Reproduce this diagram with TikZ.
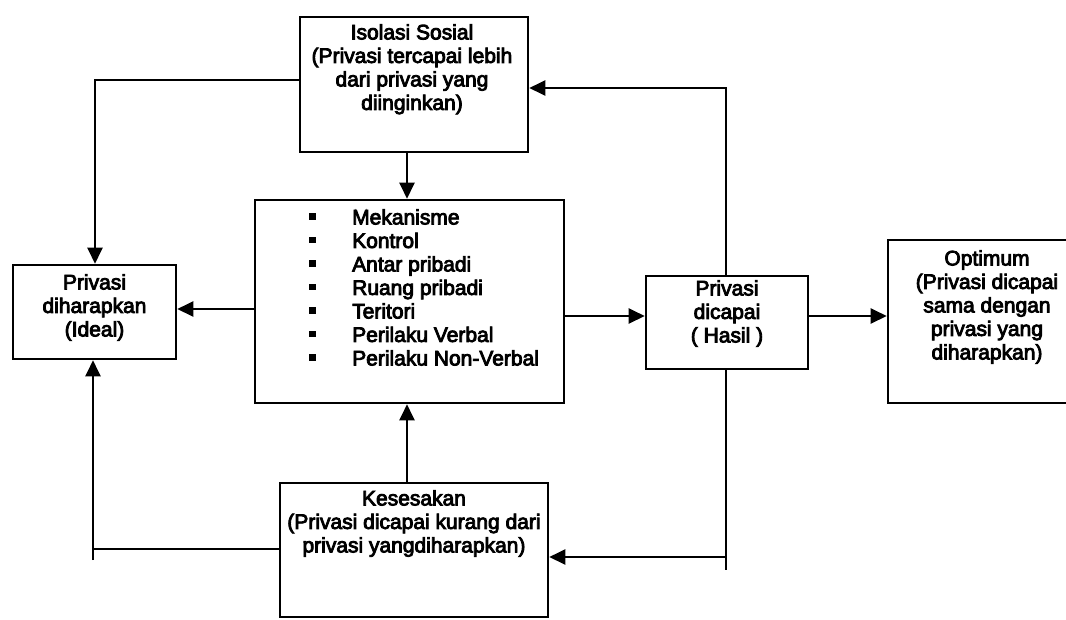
\documentclass[tikz,border=0pt]{standalone}
\usepackage{fontspec}
\newfontfamily\diafont{Liberation Sans}[FakeBold=4]
\usetikzlibrary{arrows.meta}
\newcommand{\mybul}{\makebox[43pt][l]{\rule[4.5pt]{6.5pt}{6.5pt}}}
\begin{document}
\begin{tikzpicture}[x=1pt,y=-1pt,
  box/.style={draw, line width=2.6pt, inner sep=0pt},
  txt/.style={font=\diafont\fontsize{21}{23.5}\selectfont, align=center, inner sep=0pt, anchor=north},
  ln/.style={line width=2.4pt},
  arr/.style={ln, -{Triangle[length=16pt,width=15pt]}}]
\useasboundingbox (0,0) rectangle (1066,619);
\clip (0,0) rectangle (1066,619);
% boxes
\node[box, minimum width=228pt, minimum height=135pt] (iso) at (414,84.5) {};
\node[txt] (isoT) at (412,24) {Isolasi Sosial\\(Privasi tercapai lebih\\dari privasi yang\\diinginkan)};
\node[box, minimum width=309pt, minimum height=203pt] (mek) at (409.5,301.5) {};
\node[txt, anchor=north west, align=left] (mekT) at (309,209) {\mybul Mekanisme\\\mybul Kontrol\\\mybul Antar pribadi\\\mybul Ruang pribadi\\\mybul Teritori\\\mybul Perilaku Verbal\\\mybul Perilaku Non-Verbal};
\node[box, minimum width=163pt, minimum height=94pt] (pd) at (94.5,312) {};
\node[txt] (pdT) at (94.5,274) {Privasi\\diharapkan\\(Ideal)};
\node[box, minimum width=162pt, minimum height=93pt] (pc) at (727,322.5) {};
\node[txt] (pcT) at (727,280) {Privasi\\dicapai\\( Hasil )};
\node[box, minimum width=202pt, minimum height=163pt] (opt) at (989,321.5) {};
\node[txt] (optT) at (987,250) {Optimum\\(Privasi dicapai\\sama dengan\\privasi yang\\diharapkan)};
\node[box, minimum width=268pt, minimum height=134pt] (kes) at (414,550) {};
\node[txt] (kesT) at (414,490) {Kesesakan\\(Privasi dicapai kurang dari\\privasi yangdiharapkan)};
% helper coordinates
\coordinate (cx) at (407,0);
\coordinate (lxT) at (95,0);
\coordinate (lx) at (93,0);
\coordinate (rx) at (726,0);
\coordinate (yIso) at (0,80);
\coordinate (yTop) at (0,88);
\coordinate (yPd) at (0,309);
\coordinate (yMid) at (0,316);
\coordinate (yKesL) at (0,549);
\coordinate (yKesR) at (0,557);
\coordinate (yEndL) at (0,560);
\coordinate (yEndR) at (0,570);
% connectors
\draw[arr] (iso.west |- yIso) -- (lxT |- yIso) -- (lxT |- pd.north);
\draw[arr] (iso.south -| cx) -- (mek.north -| cx);
\draw[arr] (mek.west |- yPd) -- (pd.east |- yPd);
\draw[arr] (mek.east |- yMid) -- (pc.west |- yMid);
\draw[arr] (pc.east |- yMid) -- (opt.west |- yMid);
\draw[arr] (pc.north -| rx) -- (rx |- yTop) -- (iso.east |- yTop);
\draw[ln] (pc.south -| rx) -- (rx |- yEndR);
\draw[arr] (rx |- yKesR) -- (kes.east |- yKesR);
\draw[arr] (kes.north -| cx) -- (mek.south -| cx);
\draw[ln] (kes.west |- yKesL) -- (lx |- yKesL);
\draw[arr] (lx |- yEndL) -- (lx |- pd.south);
\end{tikzpicture}
\end{document}
